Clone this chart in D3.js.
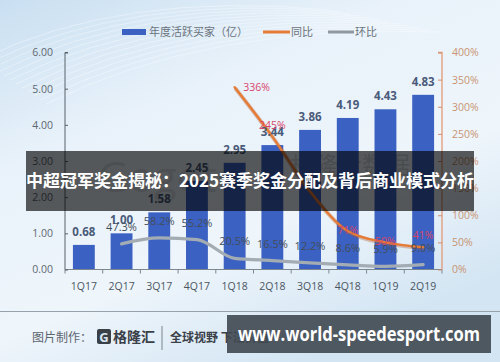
<!DOCTYPE html>
<html><head><meta charset="utf-8">
<script src="https://cdn.jsdelivr.net/npm/d3@7/dist/d3.min.js"></script>
<style>html,body{margin:0;padding:0;background:#fff;}svg{display:block;}</style>
</head><body>
<script>
const categories = ["1Q17","2Q17","3Q17","4Q17","1Q18","2Q18","3Q18","4Q18","1Q19","2Q19"];
const buyers = [0.68,1.00,1.58,2.45,2.95,3.44,3.86,4.19,4.43,4.83];
const yoy = [null,null,null,null,336,245,144,71,50,41];
const yoyLabels = [null,null,null,null,"336%","245%",null,"71%","50%","41%"];
const qoq = [null,47.3,58.2,55.2,20.5,16.5,12.2,8.6,5.9,9.0];
const qoqLabels = [null,"47.3%","58.2%","55.2%","20.5%","16.5%","12.2%","8.6%","5.9%","9.0%"];
const leftTicks = [0,1,2,3,4,5,6];
const rightTicks = [0,50,100,150,200,250,300,350,400];
const legendNames = ["年度活跃买家（亿）","同比","环比"];
const title = "中超冠军奖金揭秘：2025赛季奖金分配及背后商业模式分析";
const siteText = "www.world-speedesport.com";

const W=500,H=362;
const svg=d3.select("body").append("svg").attr("width",W).attr("height",H);
const defs=svg.append("defs");
const bg=defs.append("linearGradient").attr("id","bg").attr("x1","0").attr("y1","0").attr("x2","0.6").attr("y2","1");
bg.append("stop").attr("offset","0").attr("stop-color","#c9dff1");
bg.append("stop").attr("offset","0.35").attr("stop-color","#e9f2fa");
bg.append("stop").attr("offset","0.7").attr("stop-color","#eef5fb");
bg.append("stop").attr("offset","1").attr("stop-color","#d3e5f3");
svg.append("rect").attr("width",W).attr("height",H).attr("fill","url(#bg)");
const deco=svg.append("g").attr("fill","none").attr("stroke","#ffffff").attr("stroke-opacity",0.35).attr("stroke-width",1);
d3.range(12).forEach(i=>{
  deco.append("path").attr("d",`M${-20+i*6},${60+i*4} Q${120+i*8},${-10+i*3} ${330+i*10},${10+i*2}`);
});

const cjk='"Noto Sans CJK SC","Noto Sans",sans-serif';
const num='"Open Sans","Liberation Sans",sans-serif';

const x=d3.scaleBand().domain(categories).range([65,442]).paddingInner(0.42).paddingOuter(0.21);
const xb=d3.scaleBand().domain(categories).range([65,442]).padding(0);
const y=d3.scaleLinear().domain([0,6]).range([269.5,52.5]);
const yr=d3.scaleLinear().domain([0,400]).range([269.5,52.5]);
const cx=c=>x(c)+x.bandwidth()/2;

// watermark
svg.append("text").attr("x",98).attr("y",192).attr("font-family",num).attr("font-size",42)
  .attr("fill","#9aa3ab").attr("fill-opacity",0.3).text("Gogoto");
svg.append("text").attr("x",290).attr("y",174).attr("font-family",cjk).attr("font-size",24)
  .attr("fill","#8a939b").attr("fill-opacity",0.35).text("格隆大数据");

// bars
svg.append("g").selectAll("rect").data(categories).join("rect")
  .attr("x",c=>x(c)).attr("width",x.bandwidth())
  .attr("y",(c,i)=>y(buyers[i])).attr("height",(c,i)=>y(0)-y(buyers[i]))
  .attr("fill","#3b61c2");

// axes
const ax=svg.append("g").attr("transform","translate(0,269.5)");
ax.append("line").attr("x1",65).attr("x2",442).attr("stroke","#7d8790").attr("stroke-width",1);
const bnds=categories.map(c=>xb(c)).concat([442]);
ax.selectAll("line.t").data(bnds).join("line").attr("class","t")
  .attr("x1",d=>d).attr("x2",d=>d).attr("y1",0).attr("y2",4).attr("stroke","#7d8790");
const xa=svg.append("g").attr("transform","translate(0,269.5)")
  .call(d3.axisBottom(x).tickSize(0).tickPadding(13));
xa.select(".domain").remove();
xa.selectAll("text").attr("font-family",num).attr("font-size",10.5).attr("fill","#4c5561");

const la=svg.append("g").attr("transform","translate(65,0)")
  .call(d3.axisRight(y).tickValues(leftTicks).tickSize(3).tickFormat(d3.format(".2f")));
la.select(".domain").attr("stroke","#59626b").attr("d","M3,52.5H0V269.5");
la.selectAll(".tick line").attr("stroke","#59626b");
la.selectAll("text").attr("x",-12).attr("text-anchor","end").attr("font-family",num).attr("font-size",10.5).attr("fill","#5f6872");

const ra=svg.append("g").attr("transform","translate(442,0)")
  .call(d3.axisLeft(yr).tickValues(rightTicks).tickSize(4).tickFormat(d=>d+"%"));
ra.select(".domain").attr("stroke","#e39a78").attr("stroke-width",1.3).attr("d","M-4,52.5H0V269.5");
ra.selectAll(".tick line").attr("stroke","#d28e70");
ra.selectAll("text").attr("x",10).attr("text-anchor","start").attr("font-family",num).attr("font-size",10.5).attr("fill","#c99473");

// lines
const qoqPts=categories.map((c,i)=>[cx(c),qoq[i]]).filter(d=>d[1]!=null);
const yoyPts=categories.map((c,i)=>[cx(c),yoy[i]]).filter(d=>d[1]!=null);
const lg=d3.line().x(d=>d[0]).y(d=>yr(d[1])).curve(d3.curveMonotoneX);
svg.append("path").attr("d",lg(qoqPts)).attr("fill","none").attr("stroke","#a3abb3").attr("stroke-width",3.2).attr("stroke-linecap","round");
svg.append("path").attr("d",lg(yoyPts)).attr("fill","none").attr("stroke","#b45a2a").attr("stroke-opacity",0.35).attr("stroke-width",4).attr("transform","translate(0.6,1)");
svg.append("path").attr("d",lg(yoyPts)).attr("fill","none").attr("stroke","#e57b35").attr("stroke-width",2.4).attr("stroke-linecap","round");

// bar labels
svg.append("g").selectAll("text").data(categories).join("text")
  .attr("x",c=>cx(c)).attr("y",(c,i)=>y(buyers[i])-9).attr("text-anchor","middle")
  .attr("font-family",num).attr("font-size",11.5).attr("font-weight","bold").attr("fill","#4a5b7a")
  .text((c,i)=>buyers[i].toFixed(2));

// qoq labels
svg.append("g").selectAll("text").data(categories.filter((c,i)=>qoqLabels[i])).join("text")
  .attr("x",c=>cx(c)).attr("y",c=>yr(qoq[categories.indexOf(c)])-13).attr("text-anchor","middle")
  .attr("font-family",num).attr("font-size",11).attr("fill","#434e5a")
  .text(c=>qoqLabels[categories.indexOf(c)]);

// yoy labels
svg.append("g").selectAll("text").data(categories.filter((c,i)=>yoyLabels[i])).join("text")
  .attr("x",(c)=>{const i=categories.indexOf(c);return cx(c)+(i===4?22:0);})
  .attr("y",(c)=>{const i=categories.indexOf(c);return yr(yoy[i])+(i===4?4:(i===7||i===8?3:-8));})
  .attr("text-anchor","middle")
  .attr("font-family",num).attr("font-size",10.5).attr("fill","#d9456a")
  .text(c=>yoyLabels[categories.indexOf(c)]);

// legend
const leg=svg.append("g").attr("font-family",cjk).attr("font-size",11).attr("fill","#6a737c");
leg.append("rect").attr("x",122).attr("y",29).attr("width",24).attr("height",6).attr("fill","#3b61c2");
leg.append("text").attr("x",149).attr("y",36).text(legendNames[0]);
leg.append("line").attr("x1",263).attr("x2",290).attr("y1",32).attr("y2",32).attr("stroke","#e57b35").attr("stroke-width",3);
leg.append("text").attr("x",291).attr("y",36).text(legendNames[1]);
leg.append("line").attr("x1",328).attr("x2",354).attr("y1",32).attr("y2",32).attr("stroke","#8f98a1").attr("stroke-width",3);
leg.append("text").attr("x",355).attr("y",36).text(legendNames[2]);

// title banner
svg.append("rect").attr("x",26).attr("y",151).attr("width",448).attr("height",60).attr("fill","#000").attr("fill-opacity",0.64);
svg.append("text").attr("x",250).attr("y",187).attr("text-anchor","middle").attr("font-family",cjk)
  .attr("font-size",17).attr("font-weight","bold").attr("fill","#fff").text(title);

// footer
svg.append("line").attr("x1",0).attr("x2",W).attr("y1",311.5).attr("y2",311.5).attr("stroke","#96a1ab").attr("stroke-width",1);
svg.append("text").attr("x",32).attr("y",342).attr("font-family",cjk).attr("font-size",12).attr("fill","#5c656e").text("图片制作：");
svg.append("rect").attr("x",97).attr("y",329).attr("width",14).attr("height",15).attr("rx",2).attr("fill","#3a4048");
svg.append("text").attr("x",104).attr("y",342).attr("text-anchor","middle").attr("font-family",num).attr("font-size",13).attr("font-weight","bold").attr("fill","#d9e6f1").text("G");
svg.append("text").attr("x",113).attr("y",342).attr("font-family",cjk).attr("font-size",14).attr("font-weight","bold").attr("fill","#3a4048").text("格隆汇");
svg.append("line").attr("x1",162).attr("x2",162).attr("y1",326).attr("y2",350).attr("stroke","#7a838c");
svg.append("text").attr("x",170).attr("y",342).attr("font-family",cjk).attr("font-size",12).attr("font-weight","bold").attr("fill","#3a4048").text("全球视野 下注价值");
svg.append("rect").attr("x",227).attr("y",315).attr("width",264).attr("height",38).attr("fill","#3f4850").attr("fill-opacity",0.9);
svg.append("text").attr("x",238).attr("y",341).attr("font-family",num).attr("font-size",20).attr("font-weight","bold")
  .attr("fill","#fff").attr("textLength",242).attr("lengthAdjust","spacingAndGlyphs").text(siteText);
</script>
</body></html>
